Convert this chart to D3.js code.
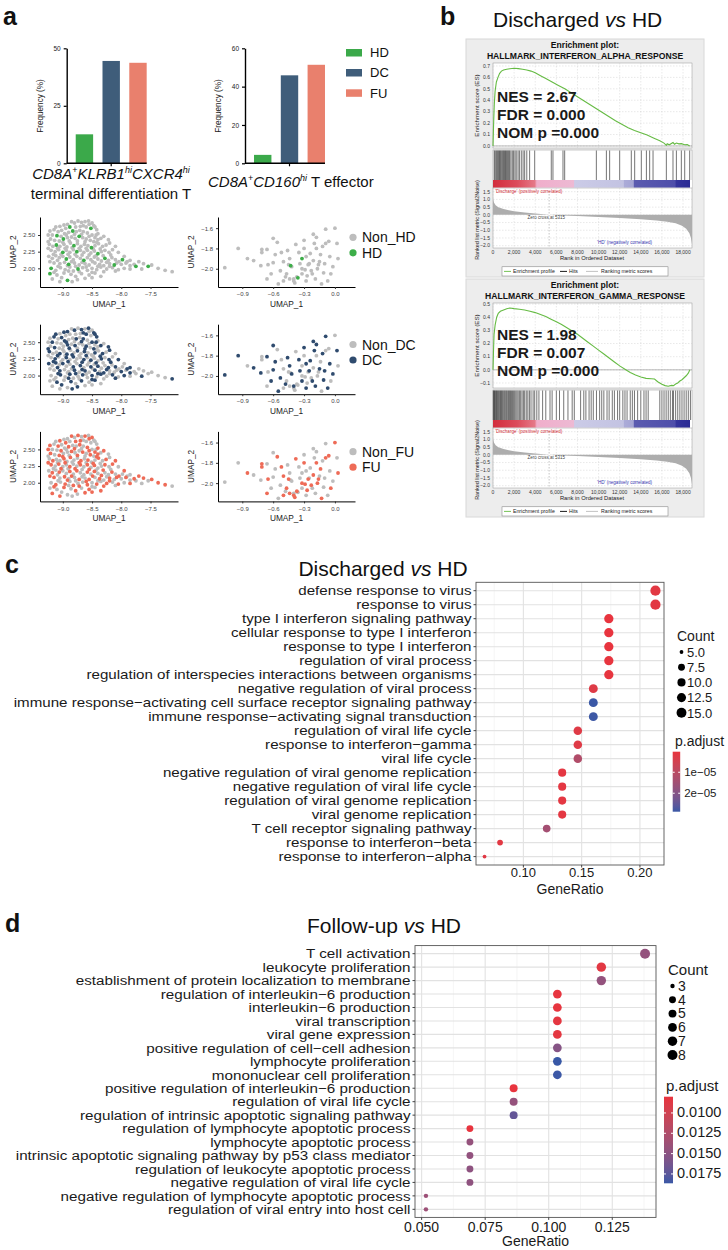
<!DOCTYPE html>
<html lang="en">
<head>
<meta charset="UTF-8">
<title>CD8 T cell subsets, GSEA and GO enrichment</title>
<script src="https://cdn.jsdelivr.net/npm/d3@7/dist/d3.min.js"></script>
<style>
  body { margin: 0; background: #fff; }
  svg { font-family: "Liberation Sans", Arial, Helvetica, sans-serif; }
</style>
</head>
<body>
<script>
// ---------- data ----------
const groups = ['HD', 'DC', 'FU'];
const freqKlrb1 = [12.6, 44.5, 43.7];
const freqCd160 = [4.4, 45.9, 51.4];
const freqTicks1 = [0, 25, 50];
const freqTicks2 = [0, 20, 40, 60];

// UMAP cells: [UMAP_1, UMAP_2, group]
const umapKlrb1 = [
  [-8.92,2.66,'DC'],[-8.85,2.70,'FU'],[-8.80,2.68,'DC'],[-8.74,2.71,'FU'],[-8.68,2.69,'DC'],[-8.62,2.70,'FU'],
  [-8.56,2.71,'DC'],[-8.50,2.68,'FU'],[-8.47,2.64,'DC'],[-8.95,2.60,'FU'],[-8.88,2.62,'HD'],[-8.70,2.63,'FU'],
  [-8.60,2.62,'DC'],[-8.52,2.60,'HD'],[-8.42,2.58,'DC'],[-8.40,2.52,'FU'],
  [-9.22,2.56,'FU'],[-9.15,2.58,'DC'],[-9.08,2.55,'FU'],[-9.02,2.57,'DC'],[-9.18,2.50,'DC'],[-9.10,2.49,'HD'],
  [-9.03,2.48,'FU'],[-8.97,2.52,'DC'],[-8.90,2.54,'FU'],[-8.83,2.56,'HD'],[-8.77,2.55,'DC'],[-8.71,2.57,'FU'],
  [-8.65,2.55,'DC'],[-8.58,2.53,'FU'],[-8.50,2.50,'DC'],[-8.45,2.46,'FU'],[-9.21,2.44,'FU'],[-9.14,2.42,'DC'],
  [-9.06,2.41,'FU'],[-8.99,2.44,'HD'],[-8.92,2.46,'DC'],[-8.85,2.47,'FU'],[-8.79,2.45,'DC'],[-8.72,2.48,'HD'],
  [-8.66,2.46,'FU'],[-8.60,2.44,'DC'],[-8.53,2.42,'FU'],[-8.47,2.40,'DC'],[-8.40,2.43,'FU'],[-8.35,2.45,'DC'],
  [-9.23,2.36,'DC'],[-9.17,2.33,'FU'],[-9.11,2.35,'HD'],[-9.05,2.33,'DC'],[-8.98,2.36,'FU'],[-8.93,2.32,'DC'],
  [-8.87,2.38,'FU'],[-8.81,2.34,'HD'],[-8.75,2.37,'DC'],[-8.69,2.33,'FU'],[-8.63,2.36,'DC'],[-8.57,2.34,'FU'],
  [-8.51,2.31,'HD'],[-8.45,2.34,'DC'],[-8.39,2.37,'FU'],[-8.32,2.33,'DC'],[-8.26,2.35,'FU'],[-9.20,2.27,'FU'],
  [-9.13,2.25,'DC'],[-9.07,2.28,'FU'],[-9.00,2.24,'HD'],[-8.94,2.27,'DC'],[-8.88,2.24,'FU'],[-8.82,2.28,'DC'],
  [-8.76,2.25,'HD'],[-8.70,2.27,'FU'],[-8.64,2.24,'DC'],[-8.58,2.27,'FU'],[-8.52,2.23,'DC'],[-8.46,2.26,'FU'],
  [-8.40,2.22,'HD'],[-8.34,2.25,'DC'],[-8.28,2.27,'FU'],[-8.21,2.24,'DC'],[-8.15,2.28,'FU'],
  [-9.24,2.18,'DC'],[-9.18,2.15,'FU'],[-9.12,2.19,'DC'],[-9.06,2.16,'FU'],[-9.00,2.18,'DC'],[-8.94,2.14,'HD'],
  [-8.88,2.17,'FU'],[-8.82,2.13,'DC'],[-8.76,2.18,'FU'],[-8.70,2.15,'DC'],[-8.64,2.12,'HD'],[-8.58,2.16,'FU'],
  [-8.52,2.13,'DC'],[-8.46,2.17,'FU'],[-8.40,2.14,'DC'],[-8.34,2.11,'FU'],[-8.28,2.15,'HD'],[-8.22,2.12,'DC'],
  [-8.16,2.16,'FU'],[-8.10,2.13,'DC'],[-8.04,2.10,'FU'],[-7.98,2.13,'HD'],[-9.15,2.08,'FU'],[-9.05,2.07,'DC'],
  [-8.97,2.09,'FU'],[-8.90,2.06,'HD'],[-8.80,2.08,'DC'],[-8.72,2.05,'FU'],[-8.62,2.07,'DC'],[-8.55,2.05,'FU'],
  [-8.45,2.08,'DC'],[-8.37,2.06,'FU'],[-8.30,2.04,'DC'],[-8.20,2.07,'FU'],[-8.12,2.05,'HD'],[-8.00,2.06,'DC'],
  [-7.92,2.08,'FU'],[-7.85,2.04,'DC'],[-7.78,2.06,'FU'],[-7.75,2.03,'HD'],[-7.62,2.07,'FU'],[-7.54,2.03,'HD'],
  [-7.48,2.05,'FU'],[-7.37,2.00,'FU'],[-7.13,1.95,'DC'],[-7.25,1.97,'FU'],
  [-9.20,2.00,'HD'],[-9.12,1.97,'FU'],[-9.04,2.01,'DC'],[-8.96,1.98,'FU'],[-8.88,2.02,'DC'],[-8.82,1.96,'FU'],
  [-8.74,1.99,'HD'],[-8.66,2.01,'DC'],[-8.58,1.97,'FU'],[-8.50,2.00,'DC'],[-8.42,1.98,'FU'],[-8.35,2.02,'DC'],
  [-8.25,1.99,'FU'],[-8.15,2.01,'DC'],[-8.05,1.98,'FU'],[-7.95,2.00,'DC'],[-7.85,1.99,'FU'],
  [-9.22,1.92,'HD'],[-9.10,1.90,'DC'],[-8.98,1.93,'FU'],[-8.86,1.91,'DC'],[-8.78,1.88,'FU'],[-8.68,1.92,'DC'],
  [-8.55,1.90,'FU'],[-8.45,1.93,'DC'],[-9.18,1.84,'FU'],[-9.02,1.86,'DC'],[-8.92,1.82,'HD'],[-8.84,1.80,'DC'],
  [-8.62,1.85,'FU'],[-8.35,1.88,'FU'],
  [-9.12,2.62,'DC'],[-9.05,2.63,'FU'],[-8.98,2.65,'DC'],[-8.78,2.62,'FU'],[-8.65,2.64,'DC'],[-8.55,2.66,'FU'],
  [-8.45,2.62,'DC'],[-9.25,2.50,'FU'],[-8.94,2.50,'DC'],[-8.80,2.51,'FU'],[-8.68,2.51,'DC'],[-8.55,2.48,'FU'],
  [-8.43,2.50,'DC'],[-8.30,2.48,'FU'],[-8.22,2.43,'DC'],[-9.25,2.40,'DC'],[-9.00,2.39,'FU'],[-8.89,2.41,'DC'],
  [-8.75,2.41,'FU'],[-8.62,2.40,'DC'],[-8.42,2.39,'FU'],[-8.20,2.38,'DC'],[-8.10,2.33,'FU'],[-9.25,2.30,'FU'],
  [-9.09,2.30,'DC'],[-8.96,2.30,'FU'],[-8.84,2.31,'DC'],[-8.72,2.30,'FU'],[-8.60,2.30,'DC'],[-8.48,2.29,'FU'],
  [-8.36,2.29,'DC'],[-8.05,2.24,'DC'],[-9.16,2.21,'DC'],[-9.03,2.21,'FU'],[-8.91,2.21,'DC'],[-8.79,2.21,'FU'],
  [-8.67,2.20,'DC'],[-8.55,2.20,'FU'],[-8.43,2.19,'DC'],[-8.31,2.19,'FU'],[-8.18,2.20,'DC'],[-7.95,2.18,'FU'],
  [-7.85,2.12,'DC'],[-9.22,2.10,'FU'],[-9.09,2.12,'DC'],[-8.85,2.10,'FU'],[-8.67,2.09,'DC'],[-8.49,2.10,'FU'],
  [-8.25,2.09,'DC'],[-8.08,2.08,'FU'],[-7.90,2.10,'DC'],[-7.70,2.10,'FU'],[-9.08,2.03,'DC'],[-8.92,2.04,'FU'],
  [-8.78,2.03,'DC'],[-8.60,2.02,'FU'],[-8.40,2.03,'DC'],[-8.20,2.03,'FU'],[-8.10,1.96,'DC'],[-7.65,1.99,'DC'],
  [-9.15,1.94,'FU'],[-8.90,1.96,'DC'],[-8.72,1.95,'FU'],[-8.50,1.94,'DC'],[-8.30,1.95,'FU'],[-9.05,1.80,'FU'],
  [-8.75,1.83,'DC'],[-8.50,1.86,'FU']
];
const umapCd160 = [
  [-1.07,-1.99,'DC'],[-0.94,-1.80,'DC'],[-0.79,-1.92,'DC'],[-0.66,-1.81,'DC'],[-0.60,-1.94,'DC'],[-0.44,-1.90,'DC'],
  [-0.55,-2.15,'DC'],[-0.48,-2.08,'DC'],[-0.40,-2.10,'DC'],[-0.32,-2.05,'DC'],[-0.22,-2.05,'DC'],[-0.11,-2.04,'DC'],
  [-0.53,-2.02,'DC'],[-0.21,-1.66,'DC'],[-0.18,-1.69,'DC'],[-0.09,-1.61,'DC'],[-0.28,-1.88,'DC'],[-0.25,-1.95,'DC'],
  [-0.15,-1.93,'DC'],[-0.05,-1.88,'DC'],[-0.02,-1.98,'DC'],[-0.35,-1.84,'DC'],[-0.12,-1.78,'DC'],[-0.30,-1.72,'DC'],
  [0.02,-1.75,'DC'],[-0.42,-1.98,'DC'],[-0.19,-2.10,'DC'],[-0.07,-2.12,'DC'],[-0.62,-2.05,'DC'],[-0.72,-1.97,'DC'],
  [-0.71,-1.81,'FU'],[-0.71,-1.84,'FU'],[-0.56,-1.74,'FU'],[-0.52,-1.84,'FU'],[-0.65,-1.96,'FU'],[-0.47,-2.05,'FU'],
  [-0.50,-2.12,'FU'],[-0.40,-2.12,'FU'],[-0.37,-2.08,'FU'],[-0.32,-2.00,'FU'],[-0.29,-2.01,'FU'],[-0.26,-1.96,'FU'],
  [-0.21,-1.92,'FU'],[-0.16,-1.96,'FU'],[-0.14,-1.86,'FU'],[-0.09,-1.75,'FU'],[-0.06,-1.73,'FU'],[-0.18,-1.80,'FU'],
  [-0.23,-2.02,'FU'],[-0.27,-2.07,'FU'],[-0.39,-2.14,'FU'],[-0.44,-2.10,'FU'],[-0.45,-1.96,'FU'],[0.00,-1.60,'FU'],
  [-0.85,-1.90,'FU'],[-0.58,-1.86,'DC'],[-0.50,-1.93,'FU'],[-0.34,-1.95,'DC'],[-0.30,-1.80,'FU'],[-0.24,-1.85,'DC'],
  [-0.17,-2.00,'FU'],[-0.10,-1.95,'DC'],[-0.04,-2.05,'FU'],[-0.13,-2.15,'FU'],[-0.28,-2.12,'DC'],[-0.46,-1.82,'DC'],
  [-0.38,-1.76,'FU'],[0.03,-1.90,'FU'],[-0.20,-1.75,'DC'],[-0.60,-1.70,'DC'],[-0.66,-2.10,'FU'],
  [-0.43,-1.97,'HD'],[-0.32,-1.90,'HD'],[-0.36,-2.09,'HD']
];

// GSEA: running enrichment score [rank, ES], hit ranks, ranked list metric [rank, Signal2Noise]
const esAlpha = [[0,0],[60,0.2],[120,0.36],[200,0.48],[320,0.56],[470,0.6],[630,0.635],[800,0.655],[1000,0.665],
  [1300,0.672],[1600,0.676],[2000,0.68],[2400,0.677],[2800,0.672],[3200,0.665],[3600,0.655],[4000,0.64],[4500,0.615],
  [5000,0.59],[5600,0.56],[6200,0.53],[6800,0.5],[7400,0.465],[8000,0.43],[8600,0.395],[9200,0.36],[9800,0.325],
  [10400,0.29],[11000,0.255],[11600,0.22],[12200,0.19],[12800,0.16],[13400,0.135],[14000,0.115],[14600,0.095],
  [15200,0.07],[15800,0.045],[16200,0.025],[16420,0.005],[16500,0.02],[16700,0.01],[17050,0.03],[17200,0.015],
  [17370,0.025],[17600,0.018],[17850,0.02],[18150,0.01],[18400,0.012],[18632,0.0]];
const esGamma = [[0,0],[50,0.15],[100,0.27],[200,0.34],[350,0.4],[500,0.43],[700,0.445],[1000,0.455],[1300,0.465],
  [1600,0.47],[2000,0.465],[2500,0.46],[3000,0.455],[3500,0.445],[4000,0.435],[4500,0.42],[5000,0.405],[5500,0.385],
  [6000,0.365],[6500,0.345],[7000,0.32],[7500,0.295],[8000,0.27],[8500,0.24],[9000,0.21],[9500,0.18],[10000,0.15],
  [10500,0.12],[11000,0.09],[11500,0.06],[12000,0.03],[12500,0.005],[13000,-0.02],[13500,-0.04],[14000,-0.055],
  [14500,-0.065],[15000,-0.068],[15300,-0.07],[15600,-0.09],[16000,-0.11],[16300,-0.12],[16600,-0.125],
  [16900,-0.118],[17100,-0.12],[17300,-0.108],[17500,-0.1],[17700,-0.085],[17900,-0.075],[18100,-0.06],
  [18300,-0.045],[18500,-0.025],[18650,0.0]];
const hitsAlpha = [120,200,300,380,460,540,620,700,780,870,950,1020,1100,1180,1260,1340,1420,1500,1580,1700,1830,
  1950,2080,2200,2370,2500,2680,2850,3000,3200,3470,3950,5520,5680,6630,6790,9790,10740,11050,12000,13100,13420,
  14050,14530,14840,15160,16420,17050,17370,17840,18160,18630];
const hitsGamma = [30,90,150,210,280,340,420,500,570,650,720,800,880,960,1050,1130,1220,1300,1400,1480,1570,1660,
  1750,1850,1950,2050,2160,2270,2380,2500,2620,2750,2880,3000,3150,3300,3450,3600,3800,3950,4150,4350,4700,5000,
  5400,5600,6000,6300,6700,7100,7500,7700,8300,8600,8800,9100,9300,9500,9800,10100,10300,10500,10800,11000,11300,
  11500,11800,12000,12300,12500,12700,13000,13200,13400,13700,14000,14300,14500,14700,15800,16000,16200,16400,
  16600,16800,17000,17100,17300,17500,17700,17900,18100,18300,18500,18700];
const rankedMetric = [[0,1.1],[30,0.95],[100,0.78],[250,0.62],[500,0.5],[1000,0.38],[1500,0.3],[2000,0.24],
  [3000,0.15],[4000,0.08],[5315,0],[6500,-0.04],[8000,-0.08],[10000,-0.14],[12000,-0.2],[14000,-0.28],
  [15500,-0.36],[16500,-0.45],[17300,-0.55],[17900,-0.7],[18300,-0.9],[18600,-1.2],[18750,-1.5],[18850,-1.9]];
const rankTicks = [0,2000,4000,6000,8000,10000,12000,14000,16000,18000];
const metricTicks = [1.5,1.0,0.5,0.0,-0.5,-1.0,-1.5,-2.0];
const esTicksAlpha = [0.0,0.1,0.2,0.3,0.4,0.5,0.6,0.7];
const esTicksGamma = [-0.1,0.0,0.1,0.2,0.3,0.4,0.5];

// GO enrichment, Discharged vs HD
const termsDC = ['defense response to virus','response to virus','type I interferon signaling pathway',
  'cellular response to type I interferon','response to type I interferon','regulation of viral process',
  'regulation of interspecies interactions between organisms','negative regulation of viral process',
  'immune response\u2212activating cell surface receptor signaling pathway','immune response\u2212activating signal transduction',
  'regulation of viral life cycle','response to interferon\u2212gamma','viral life cycle',
  'negative regulation of viral genome replication','negative regulation of viral life cycle',
  'regulation of viral genome replication','viral genome replication','T cell receptor signaling pathway',
  'response to interferon\u2212beta','response to interferon\u2212alpha'];
const countDC = [16,16,13,13,13,13,13,12,12,12,11,11,11,10,10,10,10,9,6,5];
const ratioDC = [0.2133,0.2133,0.1733,0.1733,0.1733,0.1733,0.1733,0.16,0.16,0.16,0.1467,0.1467,0.1467,
  0.1333,0.1333,0.1333,0.1333,0.12,0.08,0.0667];
const padjDC = [1.5e-6,1.5e-6,2e-7,2e-7,2e-7,4e-7,4e-7,2.5e-6,2.88e-5,2.86e-5,2.2e-6,2.2e-6,1.2e-5,
  1.2e-6,1.2e-6,1.2e-6,1.2e-6,1.45e-5,1.5e-6,2e-6];
const ratioTicksDC = [0.10, 0.15, 0.20];
const countBreaksDC = [5, 7.5, 10, 12.5, 15];
const padjBreaksDC = [1e-5, 2e-5];

// GO enrichment, Follow-up vs HD
const termsFU = ['T cell activation','leukocyte proliferation','establishment of protein localization to membrane',
  'regulation of interleukin\u22126 production','interleukin\u22126 production','viral transcription','viral gene expression',
  'positive regulation of cell\u2212cell adhesion','lymphocyte proliferation','mononuclear cell proliferation',
  'positive regulation of interleukin\u22126 production','regulation of viral life cycle',
  'regulation of intrinsic apoptotic signaling pathway','regulation of lymphocyte apoptotic process',
  'lymphocyte apoptotic process','intrinsic apoptotic signaling pathway by p53 class mediator',
  'regulation of leukocyte apoptotic process','negative regulation of viral life cycle',
  'negative regulation of lymphocyte apoptotic process','regulation of viral entry into host cell'];
const countFU = [8,7,7,6,6,6,6,6,6,6,5,5,5,4,4,4,4,4,3,3];
const ratioFU = [0.1379,0.1207,0.1207,0.1034,0.1034,0.1034,0.1034,0.1034,0.1034,0.1034,0.0862,0.0862,0.0862,
  0.069,0.069,0.069,0.069,0.069,0.0517,0.0517];
const padjFU = [0.0144,0.0085,0.0144,0.0081,0.0081,0.0083,0.0083,0.0153,0.0187,0.0186,0.0080,0.0143,0.0171,
  0.0080,0.0143,0.0145,0.0148,0.0147,0.0138,0.0138];
const ratioTicksFU = [0.050, 0.075, 0.100, 0.125];
const countBreaksFU = [3, 4, 5, 6, 7, 8];
const padjBreaksFU = [0.0100, 0.0125, 0.0150, 0.0175];

// ---------- canvas ----------
const svg = d3.select('body').append('svg').attr('width', 728).attr('height', 1250);
const defs = svg.append('defs');

function label(g, x, y, s, size, opts = {}) {
  return g.append('text').attr('x', x).attr('y', y).attr('font-size', size)
    .attr('text-anchor', opts.anchor || 'start')
    .attr('font-weight', opts.weight || 'normal')
    .attr('font-style', opts.style || 'normal')
    .attr('fill', opts.fill || '#111')
    .text(s);
}
function titleVs(x, y, before, anchor) {
  const t = svg.append('text').attr('x', x).attr('y', y).attr('font-size', 21)
    .attr('text-anchor', anchor).attr('fill', '#111');
  t.append('tspan').text(before + ' ');
  t.append('tspan').attr('font-style', 'italic').text('vs');
  t.append('tspan').text(' HD');
}

// panel letters
label(svg, 3, 25, 'a', 25, {weight: 'bold'});
label(svg, 440, 25, 'b', 25, {weight: 'bold'});
label(svg, 5, 573, 'c', 25, {weight: 'bold'});
label(svg, 5, 932, 'd', 25, {weight: 'bold'});

// ---------- a: bar charts ----------
const barColors = {HD: '#3BA94A', DC: '#3F5D7A', FU: '#E9806D'};

function barChart(x0, values, ymax, ticks) {
  const g = svg.append('g');
  const x = d3.scaleBand().domain(groups).range([x0 + 5, x0 + 84]).paddingInner(0.35).paddingOuter(0.15);
  const y = d3.scaleLinear().domain([0, ymax]).range([163.3, 48.3]);
  g.selectAll('rect').data(groups).enter().append('rect')
    .attr('x', d => x(d)).attr('width', x.bandwidth())
    .attr('y', (d, i) => y(values[i])).attr('height', (d, i) => y(0) - y(values[i]))
    .attr('fill', d => barColors[d]);
  const ya = g.append('g').attr('transform', `translate(${x0},0)`)
    .call(d3.axisLeft(y).tickValues(ticks).tickSize(3).tickSizeOuter(0).tickFormat(d3.format('d')));
  ya.select('.domain').attr('stroke', '#000').attr('stroke-width', 1.4);
  ya.selectAll('.tick line').attr('stroke', '#000').attr('stroke-width', 1.2);
  ya.selectAll('.tick text').attr('font-size', 6.5).attr('fill', '#222').attr('font-family', null);
  const xEnd = x('FU') + x.bandwidth();
  const mid = (x('HD') + xEnd) / 2;
  g.append('line').attr('x1', x0).attr('x2', xEnd).attr('y1', y(0)).attr('y2', y(0))
    .attr('stroke', '#000').attr('stroke-width', 1.4);
  g.append('line').attr('x1', mid).attr('x2', mid).attr('y1', y(0)).attr('y2', y(0) + 3)
    .attr('stroke', '#000').attr('stroke-width', 1.2);
  label(g, 0, 0, 'Frequency (%)', 8.2, {anchor: 'middle', fill: '#222'})
    .attr('transform', `translate(${x0 - 24},106) rotate(-90)`);
}
barChart(66.7, freqKlrb1, 50, freqTicks1);
barChart(245, freqCd160, 60, freqTicks2);

function supText(x, y, parts, anchor) {
  const t = svg.append('text').attr('x', x).attr('y', y).attr('font-size', 15)
    .attr('text-anchor', anchor).attr('fill', '#111');
  parts.forEach(p => {
    const s = t.append('tspan').text(p[0]);
    if (p[1]) s.attr('font-style', 'italic');
    if (p[2]) s.attr('font-size', 9).attr('dy', -6);
    if (p[3]) s.attr('dy', 6);
  });
  return t;
}
supText(111, 178.5, [['CD8A', 1], ['+', 0, 1], ['KLRB1', 1, 0, 1], ['hi', 1, 1], ['CXCR4', 1, 0, 1], ['hi', 1, 1]], 'middle');
label(svg, 111, 198.5, 'terminal differentiation T', 15, {anchor: 'middle'});
supText(208, 186.5, [['CD8A', 1], ['+', 0, 1], ['CD160', 1, 0, 1], ['hi', 1, 1], [' T effector', 0, 0, 1]], 'start');

groups.forEach((gname, i) => {
  const yy = [49, 69, 89.3][i];
  svg.append('rect').attr('x', 346).attr('y', yy).attr('width', 16).attr('height', 7.5).attr('fill', barColors[gname]);
  label(svg, 370, yy + 8.3, gname, 13);
});

// ---------- a: UMAP scatter rows ----------
const scatterRows = [
  {grp: 'HD', color: '#3DAE49'},
  {grp: 'DC', color: '#2F4B6E'},
  {grp: 'FU', color: '#EE6B57'}
];
const rowStep = 107.2;

function umapPlot(g, pts, x, y, xTicks, yTicks, xFmt, yFmt, grp, color) {
  const sorted = pts.slice().sort((a, b) => (a[2] === grp) - (b[2] === grp));
  g.selectAll('circle.cell').data(sorted).enter().append('circle')
    .attr('cx', d => x(d[0])).attr('cy', d => y(d[1])).attr('r', 1.9)
    .attr('fill', d => d[2] === grp ? color : '#BDBDBD');
  const xa = g.append('g').attr('transform', `translate(0,${y.range()[0]})`)
    .call(d3.axisBottom(x).tickValues(xTicks).tickSize(2).tickSizeOuter(0).tickFormat(d3.format(xFmt)));
  const ya = g.append('g').attr('transform', `translate(${x.range()[0]},0)`)
    .call(d3.axisLeft(y).tickValues(yTicks).tickSize(2).tickSizeOuter(0).tickFormat(d3.format(yFmt)));
  [xa, ya].forEach(a => {
    a.select('.domain').attr('stroke', '#000').attr('stroke-width', 1);
    a.selectAll('.tick line').attr('stroke', '#333');
    a.selectAll('.tick text').attr('font-size', 6).attr('fill', '#444').attr('font-family', null);
  });
  const xm = (x.range()[0] + x.range()[1]) / 2;
  label(g, xm, y.range()[0] + 19.5, 'UMAP_1', 8.3, {anchor: 'middle', fill: '#222'});
  label(g, 0, 0, 'UMAP_2', 8.3, {anchor: 'middle', fill: '#222'})
    .attr('transform', `translate(${x.range()[0] - 24},${(y.range()[0] + y.range()[1]) / 2}) rotate(-90)`);
}

scatterRows.forEach((row, i) => {
  const oy = i * rowStep;
  const g = svg.append('g');
  const xl = d3.scaleLinear().domain([-9.39, -7.03]).range([40, 178]);
  const yl = d3.scaleLinear().domain([1.72, 2.77]).range([287 + oy, 217 + oy]);
  umapPlot(g, umapKlrb1, xl, yl, [-9.0, -8.5, -8.0, -7.5], [2.00, 2.25, 2.50], '.1f', '.2f', row.grp, row.color);
  const xr = d3.scaleLinear().domain([-1.136, 0.195]).range([218, 355]);
  const yr = d3.scaleLinear().domain([-2.18, -1.49]).range([287 + oy, 217 + oy]);
  umapPlot(g, umapCd160, xr, yr, [-0.9, -0.6, -0.3, 0.0], [-2.0, -1.8, -1.6], '.1f', '.1f', row.grp, row.color);
  const ly = 237.3 + oy;
  g.append('circle').attr('cx', 353).attr('cy', ly).attr('r', 3.6).attr('fill', '#BDBDBD');
  label(g, 362, ly + 5, 'Non_' + row.grp, 14);
  g.append('circle').attr('cx', 353).attr('cy', ly + 15.5).attr('r', 3.6).attr('fill', row.color);
  label(g, 362, ly + 20.5, row.grp, 14);
});

// ---------- b: GSEA ----------
titleVs(493, 26.7, 'Discharged', 'start');

const bandGrad = defs.append('linearGradient').attr('id', 'rankband');
[[0, '#D22C3C'], [0.12, '#DC4A5A'], [0.21, '#E57888'], [0.22, '#F0AECB'], [0.405, '#EDB9D3'],
 [0.41, '#CBCBE7'], [0.655, '#C3C3E2'], [0.66, '#ABABD8'], [0.705, '#A5A5D4'], [0.71, '#5B5BB0'],
 [0.915, '#4E4EAA'], [0.92, '#34349C'], [0.99, '#2C2C94'], [0.991, '#FFFFFF'], [1, '#FFFFFF']]
  .forEach(s => bandGrad.append('stop').attr('offset', s[0]).attr('stop-color', s[1]));

function gseaPlot(oy, cfg) {
  const g = svg.append('g').attr('transform', `translate(0,${oy})`);
  g.append('rect').attr('x', 466).attr('y', 39).attr('width', 238).attr('height', 238)
    .attr('fill', '#EDEDED').attr('stroke', '#D8D8D8');
  label(g, 585, 48.3, 'Enrichment plot:', 8.6, {anchor: 'middle', weight: 'bold'});
  label(g, 585, 58.6, cfg.geneSet, 8.6, {anchor: 'middle', weight: 'bold'});

  const x = d3.scaleLinear().domain([0, 18850]).range([493, 692]);
  const yEs = d3.scaleLinear().domain(cfg.esDomain).range([148, 63]);
  const yRm = d3.scaleLinear().domain([-2.15, 1.74]).range([248, 188]);

  // frames
  g.append('rect').attr('x', 493).attr('y', 63).attr('width', 199).attr('height', 85).attr('fill', '#fff').attr('stroke', '#999').attr('stroke-width', 0.5);
  g.append('rect').attr('x', 493).attr('y', 150).attr('width', 199).attr('height', 38).attr('fill', '#fff').attr('stroke', '#999').attr('stroke-width', 0.5);
  g.append('rect').attr('x', 493).attr('y', 188).attr('width', 199).attr('height', 60).attr('fill', '#fff').attr('stroke', '#999').attr('stroke-width', 0.5);

  // grid
  const grid = g.append('g').attr('stroke', '#C8C8C8').attr('stroke-width', 0.4).attr('stroke-dasharray', '1.5,1.5');
  rankTicks.forEach(t => {
    grid.append('line').attr('x1', x(t)).attr('x2', x(t)).attr('y1', 63).attr('y2', 148);
    grid.append('line').attr('x1', x(t)).attr('x2', x(t)).attr('y1', 188).attr('y2', 248);
  });
  cfg.esTicks.forEach(t => grid.append('line').attr('x1', 493).attr('x2', 692).attr('y1', yEs(t)).attr('y2', yEs(t)));
  metricTicks.forEach(t => grid.append('line').attr('x1', 493).attr('x2', 692).attr('y1', yRm(t)).attr('y2', yRm(t)));
  g.append('line').attr('x1', 493).attr('x2', 692).attr('y1', yEs(0)).attr('y2', yEs(0)).attr('stroke', '#888').attr('stroke-width', 0.6);

  // ES curve
  g.append('path').datum(cfg.es).attr('fill', 'none').attr('stroke', '#66BB44').attr('stroke-width', 1.1)
    .attr('d', d3.line().x(d => x(d[0])).y(d => yEs(d[1])));

  // hits and rank band
  g.selectAll('line.hit').data(cfg.hits).enter().append('line')
    .attr('x1', d => x(d)).attr('x2', d => x(d)).attr('y1', 150.5).attr('y2', 180)
    .attr('stroke', '#000').attr('stroke-width', 0.55);
  g.append('rect').attr('x', 493).attr('y', 180).attr('width', 199).attr('height', 7.5).attr('fill', 'url(#rankband)');

  // ranked list metric
  g.append('path').datum(rankedMetric).attr('fill', '#ADADAD')
    .attr('d', d3.area().x(d => x(d[0])).y0(yRm(0)).y1(d => yRm(d[1])));
  g.append('line').attr('x1', x(5315)).attr('x2', x(5315)).attr('y1', 191).attr('y2', 247)
    .attr('stroke', '#888').attr('stroke-width', 0.5).attr('stroke-dasharray', '1.5,1.5');
  label(g, 527.5, 219, 'Zero cross at 5315', 4.5, {fill: '#444'});
  label(g, 495, 193.2, "'Discharge' (positively correlated)", 4.6, {fill: '#D03038'});
  label(g, 597, 244.4, "'HD' (negatively correlated)", 4.6, {fill: '#3838B0'});

  // tick labels
  cfg.esTicks.forEach(t => label(g, 490, yEs(t) + 1.8, d3.format('.1f')(t), 5, {anchor: 'end', fill: '#333'}));
  metricTicks.forEach(t => label(g, 490, yRm(t) + 1.8, d3.format('.1f')(t), 5, {anchor: 'end', fill: '#333'}));
  rankTicks.forEach(t => label(g, x(t), 253.8, d3.format(',')(t), 5, {anchor: 'middle', fill: '#333'}));
  label(g, 592, 260.3, 'Rank in Ordered Dataset', 5.8, {anchor: 'middle', fill: '#222'});
  label(g, 0, 0, 'Enrichment score (ES)', 6.2, {anchor: 'middle', fill: '#222'})
    .attr('transform', 'translate(478.5,105.5) rotate(-90)');
  label(g, 0, 0, 'Ranked list metric (Signal2Noise)', 5.4, {anchor: 'middle', fill: '#222'})
    .attr('transform', 'translate(478.5,220) rotate(-90)');

  // legend
  g.append('rect').attr('x', 502).attr('y', 266.8).attr('width', 166).attr('height', 9.2)
    .attr('fill', '#fff').attr('stroke', '#777').attr('stroke-width', 0.5);
  [[504, 511, '#66BB44', 'Enrichment profile', 513], [560, 567, '#000', 'Hits', 569], [586, 598, '#BBB', 'Ranking metric scores', 601]]
    .forEach(l => {
      g.append('line').attr('x1', l[0]).attr('x2', l[1]).attr('y1', 271.4).attr('y2', 271.4).attr('stroke', l[2]).attr('stroke-width', 0.9);
      label(g, l[4], 273.3, l[3], 5.2, {fill: '#222'});
    });

  // statistics
  cfg.stats.forEach((s, i) => label(g, 497, 101.7 + i * 18.3 - cfg.shift, s, 15.5, {weight: 'bold', fill: '#1A1A1A'}));
}

gseaPlot(0, {geneSet: 'HALLMARK_INTERFERON_ALPHA_RESPONSE', es: esAlpha, esDomain: [-0.018, 0.726], esTicks: esTicksAlpha,
  hits: hitsAlpha, stats: ['NES = 2.67', 'FDR = 0.000', 'NOM p =0.000'], shift: 0});
gseaPlot(240, {geneSet: 'HALLMARK_INTERFERON_GAMMA_RESPONSE', es: esGamma, esDomain: [-0.138, 0.508], esTicks: esTicksGamma,
  hits: hitsGamma, stats: ['NES = 1.98', 'FDR = 0.007', 'NOM p =0.000'], shift: 2});

// ---------- c, d: GO dot plots ----------
function dotPlot(cfg) {
  const g = svg.append('g');
  const {terms, counts, ratios, padj, L, R, T, B} = cfg;
  const [rmin, rmax] = d3.extent(ratios);
  const pad = (rmax - rmin) * 0.05;
  const x = d3.scaleLinear().domain([rmin - pad, rmax + pad]).range([L, R]);
  const y = d3.scalePoint().domain(terms).range([T, B]).padding(0.6);
  const [cmin, cmax] = d3.extent(counts);
  const sz = d3.scaleSqrt().domain([0, cmax - cmin]).range(cfg.rRange);
  const rOf = c => sz(c - cmin);
  const color = d3.scaleLinear().domain(cfg.pDomain).range(['#E8343E', '#3A58A6']).interpolate(d3.interpolateLab);

  g.append('rect').attr('x', L).attr('y', T).attr('width', R - L).attr('height', B - T).attr('fill', '#fff');
  cfg.minor.forEach(t => g.append('line').attr('x1', x(t)).attr('x2', x(t)).attr('y1', T).attr('y2', B)
    .attr('stroke', '#EEEEEE').attr('stroke-width', 0.6));
  cfg.ticks.forEach(t => g.append('line').attr('x1', x(t)).attr('x2', x(t)).attr('y1', T).attr('y2', B)
    .attr('stroke', '#E2E2E2').attr('stroke-width', 1.1));
  terms.forEach(t => g.append('line').attr('x1', L).attr('x2', R).attr('y1', y(t)).attr('y2', y(t))
    .attr('stroke', '#E2E2E2').attr('stroke-width', 1.1));

  g.selectAll('circle.go').data(terms).enter().append('circle')
    .attr('cx', (d, i) => x(ratios[i])).attr('cy', d => y(d))
    .attr('r', (d, i) => rOf(counts[i])).attr('fill', (d, i) => color(padj[i]));

  g.append('rect').attr('x', L).attr('y', T).attr('width', R - L).attr('height', B - T)
    .attr('fill', 'none').attr('stroke', '#555').attr('stroke-width', 0.9);

  // term labels: the original type is wider than Arial at this height, so stretch horizontally
  terms.forEach(t => {
    g.append('line').attr('x1', L - 2.5).attr('x2', L).attr('y1', y(t)).attr('y2', y(t)).attr('stroke', '#444');
    label(g, 0, 0, t, cfg.fs, {anchor: 'end', fill: '#1A1A1A'})
      .attr('transform', `translate(${L - 4.5},${y(t) + 4.8}) scale(${cfg.stretch},1)`);
  });
  cfg.ticks.forEach(t => {
    g.append('line').attr('x1', x(t)).attr('x2', x(t)).attr('y1', B).attr('y2', B + 2.5).attr('stroke', '#444');
    label(g, x(t), cfg.tickY, d3.format(cfg.fmt)(t), cfg.tickFs, {anchor: 'middle', fill: '#1A1A1A'});
  });
  label(g, (L + R) / 2, cfg.tickY + cfg.titleGap, 'GeneRatio', 14, {anchor: 'middle', fill: '#1A1A1A'});

  // size legend
  label(g, cfg.legX, cfg.countY, 'Count', cfg.legTitleFs, {fill: '#1A1A1A'});
  cfg.countBreaks.forEach((c, i) => {
    const cy = cfg.countY + 11 + i * cfg.countStep;
    g.append('circle').attr('cx', cfg.legX + 4.5).attr('cy', cy).attr('r', rOf(c)).attr('fill', '#000');
    label(g, cfg.legX + 10, cy + 4.8, cfg.countFmt(c), cfg.legFs, {fill: '#1A1A1A'});
  });

  // colour bar
  label(g, cfg.legX - 2, cfg.barTop - 6, 'p.adjust', cfg.legTitleFs, {fill: '#1A1A1A'});
  const gid = 'bar' + cfg.id;
  const grad = defs.append('linearGradient').attr('id', gid).attr('x1', 0).attr('x2', 0).attr('y1', 0).attr('y2', 1);
  d3.range(11).forEach(k => grad.append('stop').attr('offset', k / 10)
    .attr('stop-color', color(cfg.pDomain[0] + (cfg.pDomain[1] - cfg.pDomain[0]) * k / 10)));
  const yb = d3.scaleLinear().domain(cfg.pDomain).range([cfg.barTop, cfg.barBottom]);
  g.append('rect').attr('x', cfg.barX).attr('y', cfg.barTop).attr('width', cfg.barW)
    .attr('height', cfg.barBottom - cfg.barTop).attr('fill', `url(#${gid})`);
  cfg.padjBreaks.forEach(p => {
    g.append('line').attr('x1', cfg.barX).attr('x2', cfg.barX + 2).attr('y1', yb(p)).attr('y2', yb(p)).attr('stroke', '#fff');
    g.append('line').attr('x1', cfg.barX + cfg.barW - 2).attr('x2', cfg.barX + cfg.barW).attr('y1', yb(p)).attr('y2', yb(p)).attr('stroke', '#fff');
    label(g, cfg.barX + cfg.barW + 4, yb(p) + 4.2, cfg.padjFmt(p), cfg.barFs, {fill: '#1A1A1A'});
  });
}

const sciFmt = p => d3.format('.0e')(p).replace(/e[\u2212-](\d)$/, 'e\u22120$1');

titleVs(383, 576, 'Discharged', 'middle');
dotPlot({id: 'c', terms: termsDC, counts: countDC, ratios: ratioDC, padj: padjDC,
  L: 476, R: 664, T: 582.3, B: 865, rRange: [1.9, 5.1], pDomain: [2e-7, 2.88e-5],
  ticks: ratioTicksDC, minor: [0.075, 0.125, 0.175], fmt: '.2f', fs: 13.4, stretch: 1.13, tickFs: 13, tickY: 877, titleGap: 17,
  legX: 677, countY: 641, countStep: 15.2, countBreaks: countBreaksDC, countFmt: d3.format('.1f'),
  legTitleFs: 14, legFs: 13, barX: 672.7, barW: 7.5, barTop: 751.7, barBottom: 811.7,
  padjBreaks: padjBreaksDC, padjFmt: sciFmt, barFs: 11.5});

titleVs(384, 933, 'Follow-up', 'middle');
dotPlot({id: 'd', terms: termsFU, counts: countFU, ratios: ratioFU, padj: padjFU,
  L: 415, R: 656, T: 945.6, B: 1217.4, rRange: [2.2, 5.0], pDomain: [0.0080, 0.01865],
  ticks: ratioTicksFU, minor: [0.0625, 0.0875, 0.1125, 0.1375], fmt: '.3f', fs: 12.9, stretch: 1.18, tickFs: 14, tickY: 1231.5, titleGap: 14.5,
  legX: 668, countY: 975, countStep: 13.8, countBreaks: countBreaksFU, countFmt: d3.format('d'),
  legTitleFs: 15, legFs: 14, barX: 664, barW: 9, barTop: 1096.7, barBottom: 1183.3,
  padjBreaks: padjBreaksFU, padjFmt: d3.format('.4f'), barFs: 14.5});
</script>
</body>
</html>
